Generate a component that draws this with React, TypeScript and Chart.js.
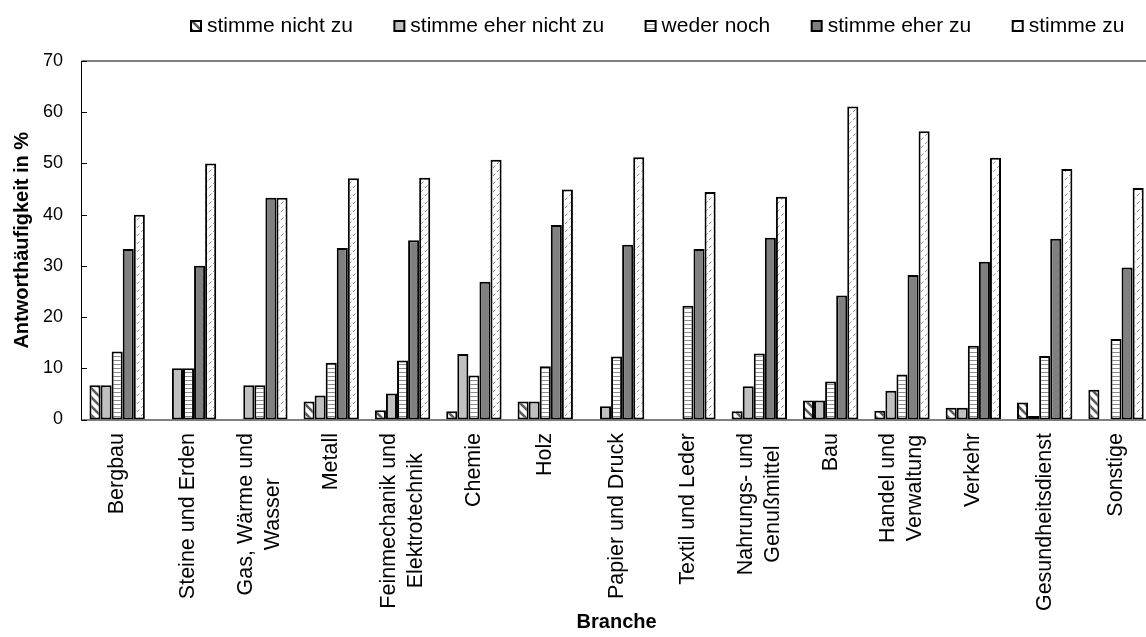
import React, { useEffect, useRef } from 'react';
import { Chart, registerables } from 'chart.js';

Chart.register(...registerables);

const FONT = '"Liberation Sans", Arial, Helvetica, sans-serif';

const categories: (string | string[])[] = [
  'Bergbau',
  'Steine und Erden',
  ['Gas, Wärme und', 'Wasser'],
  'Metall',
  ['Feinmechanik und', 'Elektrotechnik'],
  'Chemie',
  'Holz',
  'Papier und Druck',
  'Textil und Leder',
  ['Nahrungs- und', 'Genußmittel'],
  'Bau',
  ['Handel und', 'Verwaltung'],
  'Verkehr',
  'Gesundheitsdienst',
  'Sonstige',
];

const seriesNames = ['stimme nicht zu', 'stimme eher nicht zu', 'weder noch', 'stimme eher zu', 'stimme zu'];

const stimmeNichtZu = [6.7, 0, 0, 3.5, 1.8, 1.6, 3.5, 0, 0, 1.6, 3.7, 1.7, 2.3, 3.3, 5.8];
const stimmeEherNichtZu = [6.7, 10.0, 6.7, 4.7, 5.1, 12.8, 3.5, 2.6, 0, 6.5, 3.7, 5.6, 2.3, 0.7, 0];
const wederNoch = [13.3, 10.0, 6.7, 11.1, 11.5, 8.6, 10.4, 12.3, 22.2, 12.9, 7.4, 8.8, 14.4, 12.4, 15.7];
const stimmeEherZu = [33.3, 30.0, 43.3, 33.5, 35.0, 26.9, 38.0, 34.1, 33.3, 35.5, 24.2, 28.2, 30.8, 35.3, 29.7];
const stimmeZu = [40.0, 50.0, 43.3, 47.1, 47.2, 50.7, 44.9, 51.2, 44.4, 43.5, 61.1, 56.3, 51.1, 48.9, 45.2];

const seriesValues = [stimmeNichtZu, stimmeEherNichtZu, wederNoch, stimmeEherZu, stimmeZu];

const yMin = 0;
const yMax = 70;
const yStep = 10;

function makePattern(kind: number): CanvasPattern | string {
  const c = document.createElement('canvas');
  const ctx = c.getContext('2d');
  if (!ctx) return '#fff';
  if (kind === 0) {
    const s = 9;
    c.width = s; c.height = s;
    ctx.fillStyle = '#fff';
    ctx.fillRect(0, 0, s, s);
    ctx.strokeStyle = '#5a5a5a';
    ctx.lineWidth = 2.6;
    for (const o of [-s, 0, s]) {
      ctx.beginPath();
      ctx.moveTo(o - 1, -1);
      ctx.lineTo(o + s + 1, s + 1);
      ctx.stroke();
    }
  } else if (kind === 2) {
    c.width = 4; c.height = 4;
    ctx.fillStyle = '#fff';
    ctx.fillRect(0, 0, 4, 4);
    ctx.fillStyle = '#8c8c8c';
    ctx.fillRect(0, 0, 4, 1);
  } else if (kind === 4) {
    c.width = 8; c.height = 8;
    ctx.fillStyle = '#fff';
    ctx.fillRect(0, 0, 8, 8);
    ctx.strokeStyle = '#9a9a9a';
    ctx.lineWidth = 1;
    ctx.beginPath();
    ctx.moveTo(1, 4); ctx.lineTo(3.5, 1.5);
    ctx.moveTo(5, 8); ctx.lineTo(7.5, 5.5);
    ctx.stroke();
  }
  const p = ctx.createPattern(c, 'repeat');
  return p || '#fff';
}

const seriesFills = (): (CanvasPattern | string)[] => [
  makePattern(0),
  '#c0c0c0',
  makePattern(2),
  '#808080',
  makePattern(4),
];

const xLabelPlugin = {
  id: 'xLabelsCentered',
  afterDraw(chart: any) {
    const ctx: CanvasRenderingContext2D = chart.ctx;
    const xs = chart.scales.x;
    const bottom = chart.chartArea.bottom;
    ctx.save();
    ctx.font = `21.5px ${FONT}`;
    ctx.fillStyle = '#000';
    ctx.textAlign = 'center';
    ctx.textBaseline = 'middle';
    categories.forEach((lab, i) => {
      const lines = Array.isArray(lab) ? lab : [lab];
      const cx = xs.getPixelForTick(i);
      const maxW = Math.max(...lines.map((l) => ctx.measureText(l).width));
      const cy = bottom + 13.5 + maxW / 2;
      lines.forEach((l, j) => {
        const lx = cx + (j - (lines.length - 1) / 2) * 27;
        ctx.save();
        ctx.translate(lx, cy);
        ctx.rotate(-Math.PI / 2);
        ctx.fillText(l, 0, 0);
        ctx.restore();
      });
    });
    ctx.restore();
  },
};

const framePlugin = {
  id: 'frameAndTicks',
  afterDatasetsDraw(chart: any) {
    const ctx: CanvasRenderingContext2D = chart.ctx;
    const { left, right, top } = chart.chartArea;
    const ys = chart.scales.y;
    ctx.save();
    ctx.strokeStyle = '#808080';
    ctx.lineWidth = 2;
    ctx.beginPath();
    ctx.moveTo(left, top);
    ctx.lineTo(right, top);
    ctx.stroke();
    ctx.strokeStyle = '#000';
    ctx.lineWidth = 1;
    ys.ticks.forEach((t: any) => {
      const y = Math.round(ys.getPixelForValue(t.value)) + 0.5;
      ctx.beginPath();
      ctx.moveTo(left, y);
      ctx.lineTo(left + 5.5, y);
      ctx.stroke();
    });
    ctx.restore();
  },
};

const LEGEND_PAD = 46;

const legendPosPlugin = {
  id: 'legendPos',
  afterLayout(chart: any) {
    const lg = chart.legend;
    if (!lg) return;
    lg.left = 195.5 - LEGEND_PAD;
    lg.right = 1800;
    lg.top = 26 - LEGEND_PAD - 10.5;
  },
};

export default function App() {
  const ref = useRef<HTMLCanvasElement | null>(null);

  useEffect(() => {
    if (!ref.current) return;
    const fills = seriesFills();
    const chart = new Chart(ref.current, {
      type: 'bar',
      data: {
        labels: categories as any,
        datasets: seriesNames.map((name, k) => ({
          label: name,
          data: seriesValues[k],
          backgroundColor: fills[k] as any,
          borderColor: '#000',
          borderWidth: 2,
          borderSkipped: false,
          categoryPercentage: 0.776,
          barPercentage: 1,
        })),
      },
      options: {
        responsive: false,
        animation: false,
        maintainAspectRatio: false,
        layout: { padding: { top: 0, left: 0, right: 8.3, bottom: 0 } },
        plugins: {
          tooltip: { enabled: false },
          legend: {
            display: true,
            position: 'top',
            align: 'start',
            maxHeight: 61,
            labels: {
              color: '#000',
              font: { family: FONT, size: 21 },
              usePointStyle: true,
              pointStyle: 'rect',
              boxWidth: 1,
              boxHeight: 10,
              padding: LEGEND_PAD,
            },
          },
        },
        scales: {
          x: {
            ticks: { display: false },
            grid: { display: false, drawTicks: false },
            border: { display: true, color: '#808080', width: 2 },
            title: {
              display: true,
              text: 'Branche',
              color: '#000',
              font: { family: FONT, size: 20, weight: 'bold' },
              padding: { top: 0, bottom: 3 },
            },
            afterFit: (s: any) => { s.height = 217.5; },
          },
          y: {
            min: yMin,
            max: yMax,
            ticks: {
              stepSize: yStep,
              color: '#000',
              font: { family: FONT, size: 18 },
              padding: 18.5,
            },
            grid: { display: false, drawTicks: false },
            border: { display: true, color: '#000', width: 1 },
            title: {
              display: true,
              text: 'Antworthäufigkeit in %',
              color: '#000',
              font: { family: FONT, size: 20, weight: 'bold' },
              padding: { top: 10.5, bottom: 0 },
            },
            afterFit: (s: any) => { s.width = 81.5; },
          },
        },
      } as any,
      plugins: [xLabelPlugin, framePlugin, legendPosPlugin],
    });
    return () => chart.destroy();
  }, []);

  return (
    <div style={{ position: 'fixed', left: 0, top: 0, width: 1146, height: 637, overflow: 'hidden', background: '#fff' }}>
      <canvas ref={ref} width={1160} height={637} style={{ display: 'block', width: 1160, height: 637 }} />
    </div>
  );
}
